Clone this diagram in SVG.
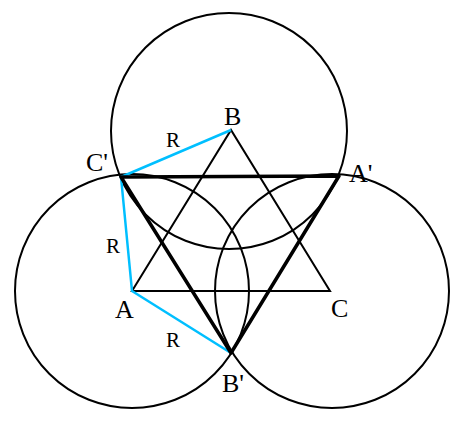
<svg xmlns="http://www.w3.org/2000/svg" width="470" height="432" viewBox="0 0 470 432">
<style>
.c{fill:none;stroke:#000;stroke-width:2}
.t{fill:none;stroke:#000;stroke-width:2}
.k{fill:none;stroke:#000;stroke-width:3.5;stroke-linejoin:round}
.b{fill:none;stroke:#00BFFF;stroke-width:2.5;stroke-linejoin:round}
.l{font-family:"Liberation Serif",serif;font-size:26px;fill:#000}
.r{font-family:"Liberation Serif",serif;font-size:21px;fill:#000}
</style>
<rect width="470" height="432" fill="#fff"/>
<g id="circles">
<circle class="c" cx="132" cy="291" r="117"/>
<circle class="c" cx="229" cy="131" r="118"/>
<circle class="c" cx="332" cy="291" r="117"/>
</g>
<g id="connectors">
<polygon class="t" points="132,291 231,130 330,291"/>
<polyline class="b" points="231,130 121,177 132,291 231,353"/>
<polygon class="k" points="121,177 339,176 231,353"/>
</g>
<g id="labels">
<text class="l" x="224" y="125">B</text>
<text class="l" x="86" y="171">C'</text>
<text class="l" x="349" y="182">A'</text>
<text class="l" x="115" y="318">A</text>
<text class="l" x="222" y="392">B'</text>
<text class="l" x="331" y="317">C</text>
<text class="r" x="106" y="253">R</text>
<text class="r" x="166" y="147">R</text>
<text class="r" x="166" y="347">R</text>
</g>
</svg>
